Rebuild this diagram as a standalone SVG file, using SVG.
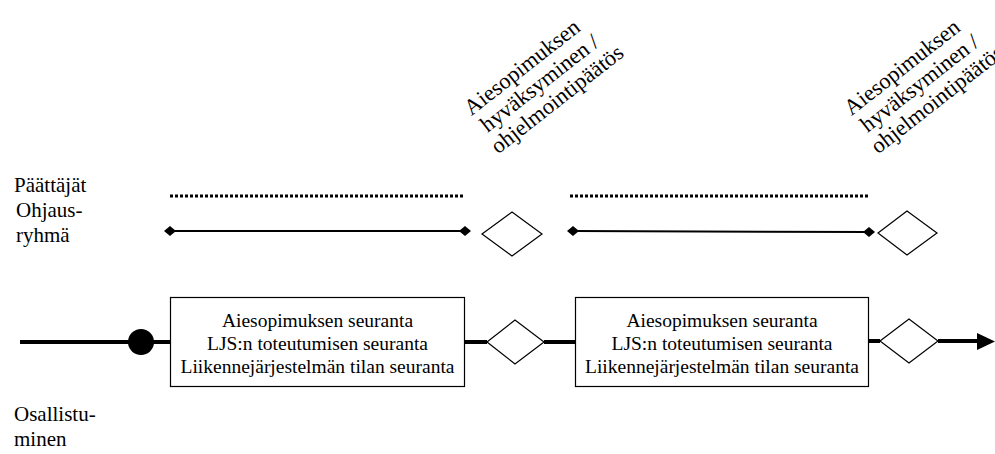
<svg xmlns="http://www.w3.org/2000/svg" width="995" height="454" viewBox="0 0 995 454" font-family="'Liberation Serif', Tinos, 'DejaVu Serif', serif">
  <style>
    text { font-family: "Liberation Serif", Tinos, "DejaVu Serif", serif; fill: #000; }
    .lbl { font-size: 21px; }
    .box text { font-size: 19.5px; text-anchor: middle; }
    .rot text { font-size: 22.5px; text-anchor: middle; }
    .box rect { fill: #fff; stroke: #000; stroke-width: 1.2; }
    .dia { fill: #fff; stroke: #000; stroke-width: 1.2; }
    .main { stroke: #000; stroke-width: 4; fill: none; }
    .dots { stroke: #000; stroke-width: 3; stroke-dasharray: 3 2; fill: none; }
    .span { stroke: #000; stroke-width: 2; fill: none; marker-start: url(#dm); marker-end: url(#dm); }
  </style>
  <defs>
    <marker id="dm" viewBox="-6 -5 12 10" markerWidth="12" markerHeight="10" markerUnits="userSpaceOnUse" orient="auto">
      <polygon points="-6,0 0,-5 6,0 0,5" fill="#000"/>
    </marker>
  </defs>

  <rect width="995" height="454" fill="#fff"/>

  <!-- row labels -->
  <g id="lbl-paattajat" class="lbl">
    <text x="14" y="192">Päättäjät</text>
  </g>
  <g id="lbl-ohjausryhma" class="lbl">
    <text x="16" y="217">Ohjaus-</text>
    <text x="16" y="242">ryhmä</text>
  </g>
  <g id="lbl-osallistuminen" class="lbl">
    <text x="14" y="421">Osallistu-</text>
    <text x="14" y="446">minen</text>
  </g>

  <!-- rotated decision captions -->
  <g id="cap-1" class="rot" transform="translate(544 89) rotate(-38)">
    <text x="-4" y="-23.4">Aiesopimuksen</text>
    <text x="0" y="0">hyväksyminen /</text>
    <text x="4" y="23.4">ohjelmointipäätös</text>
  </g>
  <g id="cap-2" class="rot" transform="translate(924 89) rotate(-38)">
    <text x="-4" y="-23.4">Aiesopimuksen</text>
    <text x="0" y="0">hyväksyminen /</text>
    <text x="4" y="23.4">ohjelmointipäätös</text>
  </g>

  <!-- connectors -->
  <g id="connectors">
    <line class="dots" x1="170" y1="196" x2="465" y2="196"/>
    <line class="dots" x1="570" y1="196" x2="870" y2="196"/>
    <line class="span" x1="170" y1="231" x2="465" y2="231"/>
    <line class="span" x1="573" y1="231" x2="869" y2="232"/>
    <line class="main" x1="20" y1="342" x2="171" y2="342"/>
    <line class="main" x1="465" y1="342" x2="487" y2="342"/>
    <line class="main" x1="544" y1="342" x2="575" y2="342"/>
    <line class="main" x1="869" y1="341" x2="880" y2="341"/>
    <line class="main" x1="938" y1="341" x2="978" y2="341"/>
    <polygon points="977,333 995,341.5 977,350" fill="#000"/>
  </g>

  <!-- start point -->
  <g id="start">
    <circle cx="141" cy="342" r="13" fill="#000"/>
  </g>

  <!-- upper decision diamonds -->
  <g id="dec-top-1">
    <polygon class="dia" points="482,234 512,212 542,234 512,256"/>
  </g>
  <g id="dec-top-2">
    <polygon class="dia" points="878,233 907,211 937,233 907,255"/>
  </g>

  <!-- follow-up boxes -->
  <g id="box-1" class="box">
    <rect x="170.5" y="297.5" width="294" height="89"/>
    <text x="317.5" y="327">Aiesopimuksen seuranta</text>
    <text x="317.5" y="350">LJS:n toteutumisen seuranta</text>
    <text x="317.5" y="373">Liikennejärjestelmän tilan seuranta</text>
  </g>
  <g id="box-2" class="box">
    <rect x="575.5" y="297.5" width="293" height="89"/>
    <text x="722" y="327">Aiesopimuksen seuranta</text>
    <text x="722" y="350">LJS:n toteutumisen seuranta</text>
    <text x="722" y="373">Liikennejärjestelmän tilan seuranta</text>
  </g>

  <!-- lower decision diamonds -->
  <g id="dec-main-1">
    <polygon class="dia" points="487,342 515,320 544,342 515,364"/>
  </g>
  <g id="dec-main-2">
    <polygon class="dia" points="880,341 909,319 938,341 909,363"/>
  </g>
</svg>
